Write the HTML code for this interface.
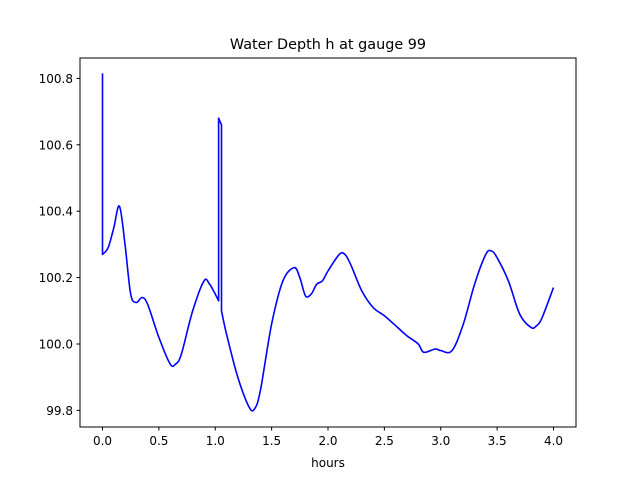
<!DOCTYPE html>
<html><head><meta charset="utf-8"><style>
body{margin:0;background:#fff;}
svg text{font-family:"DejaVu Sans","Liberation Sans",sans-serif;font-size:12px;fill:#000;}
</style></head><body>
<svg id="chart" width="640" height="480" xmlns="http://www.w3.org/2000/svg">
<rect width="640" height="480" fill="#fff"/>
<text x="328" y="49" text-anchor="middle" style="font-size:14.4px">Water Depth h at gauge 99</text>
<text x="328" y="467" text-anchor="middle">hours</text>
<g id="ticks"></g>
<path id="line" fill="none" stroke="#0000ff" stroke-width="1.6" stroke-linejoin="round"/>
<rect x="80" y="58" width="496" height="369" fill="none" stroke="#000" stroke-width="1"/>
</svg>
<script>
const hours=[0,0,0.05,0.1,0.15,0.2,0.25,0.3,0.35,0.4,0.5,0.6,0.65,0.7,0.8,0.9,0.95,1.0,1.03,1.03,1.055,1.055,1.1,1.2,1.3,1.35,1.4,1.5,1.6,1.7,1.75,1.8,1.85,1.9,1.95,2.0,2.1,2.15,2.2,2.3,2.4,2.5,2.6,2.7,2.8,2.85,2.95,3.0,3.1,3.2,3.3,3.4,3.45,3.5,3.6,3.7,3.8,3.85,3.9,4.0];
const depth=[100.815,100.27,100.29,100.35,100.415,100.3,100.15,100.125,100.14,100.12,100.02,99.94,99.94,99.97,100.1,100.19,100.18,100.15,100.13,100.68,100.66,100.1,100.03,99.9,99.81,99.805,99.86,100.06,100.19,100.23,100.2,100.145,100.15,100.18,100.19,100.22,100.27,100.27,100.24,100.16,100.11,100.085,100.055,100.025,100.0,99.975,99.985,99.98,99.98,100.06,100.18,100.27,100.28,100.26,100.19,100.09,100.05,100.055,100.08,100.17];
const xTicks=[0,0.5,1,1.5,2,2.5,3,3.5,4];
const yTicks=[99.8,100.0,100.2,100.4,100.6,100.8];
const X=v=>102.5+v*112.75;
const Y=v=>344-(v-100)*332;
const ns="http://www.w3.org/2000/svg";
const g=document.getElementById('ticks');
xTicks.forEach(t=>{
  const l=document.createElementNS(ns,'line');
  l.setAttribute('x1',X(t));l.setAttribute('x2',X(t));l.setAttribute('y1',427);l.setAttribute('y2',430.5);l.setAttribute('stroke','#000');
  
  
  g.appendChild(l);
  const tx=document.createElementNS(ns,'text');
  tx.setAttribute('x',X(t));tx.setAttribute('y',445);tx.setAttribute('text-anchor','middle');tx.textContent=t.toFixed(1);
  
  
  g.appendChild(tx);
});
yTicks.forEach(t=>{
  const l=document.createElementNS(ns,'line');
  l.setAttribute('x1',76.5);l.setAttribute('x2',80);l.setAttribute('y1',Y(t));l.setAttribute('y2',Y(t));l.setAttribute('stroke','#000');
  
  
  g.appendChild(l);
  const tx=document.createElementNS(ns,'text');
  tx.setAttribute('x',73);tx.setAttribute('y',Y(t)+4.5);tx.setAttribute('text-anchor','end');tx.textContent=t.toFixed(1);
  
  
  g.appendChild(tx);
});
// split into runs at vertical jumps, smooth within runs
const pts=hours.map((h,i)=>[X(h),Y(depth[i])]);
const runs=[];let cur=[pts[0]];
for(let i=1;i<pts.length;i++){
  if(hours[i]===hours[i-1]){runs.push(cur);cur=[pts[i]];}
  else cur.push(pts[i]);
}
runs.push(cur);
let d='M'+pts[0][0].toFixed(1)+','+pts[0][1].toFixed(1);
runs.forEach(r=>{
  d+='L'+r[0][0].toFixed(1)+','+r[0][1].toFixed(1);
  for(let i=0;i<r.length-1;i++){
    const p0=r[Math.max(0,i-1)],p1=r[i],p2=r[i+1],p3=r[Math.min(r.length-1,i+2)];
    const c1=[p1[0]+(p2[0]-p0[0])/6,p1[1]+(p2[1]-p0[1])/6];
    const c2=[p2[0]-(p3[0]-p1[0])/6,p2[1]-(p3[1]-p1[1])/6];
    d+='C'+c1[0].toFixed(1)+','+c1[1].toFixed(1)+' '+c2[0].toFixed(1)+','+c2[1].toFixed(1)+' '+p2[0].toFixed(1)+','+p2[1].toFixed(1);
  }
});
document.getElementById('line').setAttribute('d',d);
</script>
</body></html>
